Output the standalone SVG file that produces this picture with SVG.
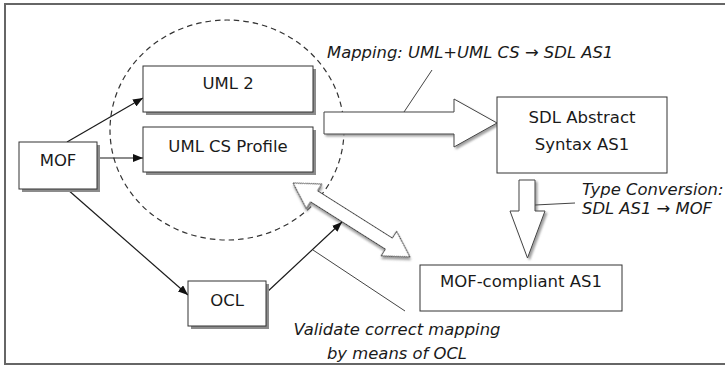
<svg xmlns="http://www.w3.org/2000/svg" width="725" height="366" viewBox="0 0 725 366">
  <style>
    .frame { fill: #ffffff; stroke: #666666; stroke-width: 2; }
    .scope { fill: none; stroke: #333333; stroke-width: 1.2; stroke-dasharray: 5.5 4; }
    .box { fill: #ffffff; stroke: #333333; stroke-width: 1; }
    .shadow { fill: #8c8c8c; }
    .fat { fill: #ffffff; stroke: #444444; stroke-width: 1; filter: url(#soft); }
    .edge { fill: none; stroke: #1a1a1a; stroke-width: 1.2; marker-end: url(#tip); }
    .note { fill: none; stroke: #444444; stroke-width: 1; }
    .name { font-family: "DejaVu Sans", Verdana, sans-serif; font-size: 16.5px; fill: #1a1a1a; text-anchor: middle; }
    .label { font-family: "DejaVu Sans", Verdana, sans-serif; font-size: 16.4px; font-style: italic; fill: #1a1a1a; }
  </style>
  <defs>
    <marker id="tip" viewBox="0 0 10 8" refX="10" refY="4" markerWidth="10" markerHeight="8" markerUnits="userSpaceOnUse" orient="auto">
      <path d="M0,0 L10,4 L0,8 Z" fill="#111111"/>
    </marker>
    <filter id="soft" x="-10%" y="-10%" width="130%" height="130%">
      <feDropShadow dx="2" dy="2" stdDeviation="1" flood-color="#888888" flood-opacity="0.8"/>
    </filter>
  </defs>

  <!-- outer frame -->
  <rect class="frame" x="5" y="4" width="725" height="360"/>

  <!-- dashed scope around the UML models -->
  <ellipse class="scope" cx="227" cy="130" rx="117" ry="110"/>

  <!-- block arrows and thin connectors -->
  <g id="connectors">
    <!-- mapping: UML models to SDL abstract syntax -->
    <polygon class="fat" points="324,112 454,112 454,99 497,123 454,147 454,134 324,134"/>
    <!-- type conversion: SDL AS1 to MOF-compliant AS1 -->
    <polygon class="fat" points="519,180 535,180 535,211 545,211 527.5,258 510,211 519,211"/>
    <!-- validation link between profile and MOF-compliant AS1 -->
    <polygon class="fat" transform="translate(293,183) rotate(32.3)" points="0,0 25,-14.5 25,-6.5 113.4,-6.5 113.4,-14.5 138.4,0 113.4,14.5 113.4,6.5 25,6.5 25,14.5"/>

    <line class="edge" x1="67" y1="142" x2="143" y2="98"/>
    <line class="edge" x1="97" y1="158" x2="143" y2="158"/>
    <line class="edge" x1="67" y1="189" x2="188" y2="295"/>
    <line class="edge" x1="266" y1="293" x2="342" y2="222"/>

    <!-- label leaders -->
    <line class="note" x1="404" y1="112" x2="432" y2="70"/>
    <line class="note" x1="535" y1="205" x2="575" y2="203"/>
    <line class="note" x1="313" y1="250" x2="405" y2="311"/>
  </g>

  <g id="mof">
    <rect class="shadow" x="22" y="145" width="78" height="47"/>
    <rect class="box" x="19" y="142" width="78" height="47"/>
    <text class="name" x="58" y="166">MOF</text>
  </g>

  <g id="uml2">
    <rect class="shadow" x="146" y="69" width="170" height="46"/>
    <rect class="box" x="143" y="66" width="170" height="46"/>
    <text class="name" x="228" y="89">UML 2</text>
  </g>

  <g id="umlcs">
    <rect class="shadow" x="146" y="130" width="170" height="45"/>
    <rect class="box" x="143" y="127" width="170" height="45"/>
    <text class="name" x="228" y="152">UML CS Profile</text>
  </g>

  <g id="ocl">
    <rect class="shadow" x="191" y="284" width="78" height="45"/>
    <rect class="box" x="188" y="281" width="78" height="45"/>
    <text class="name" x="227" y="306">OCL</text>
  </g>

  <g id="sdl">
    <rect class="box" x="497" y="97" width="170" height="76"/>
    <text class="name" x="582" y="123">SDL Abstract</text>
    <text class="name" x="582" y="150">Syntax AS1</text>
  </g>

  <g id="mofas1">
    <rect class="box" x="420" y="265" width="202" height="46"/>
    <text class="name" x="521" y="287">MOF-compliant AS1</text>
  </g>

  <g id="labels">
    <text class="label" x="327" y="58">Mapping: UML+UML CS → SDL AS1</text>
    <text class="label" x="582" y="195">Type Conversion:</text>
    <text class="label" x="582" y="214">SDL AS1 → MOF</text>
    <text class="label" x="397" y="335" text-anchor="middle">Validate correct mapping</text>
    <text class="label" x="397" y="359" text-anchor="middle">by means of OCL</text>
  </g>
</svg>
